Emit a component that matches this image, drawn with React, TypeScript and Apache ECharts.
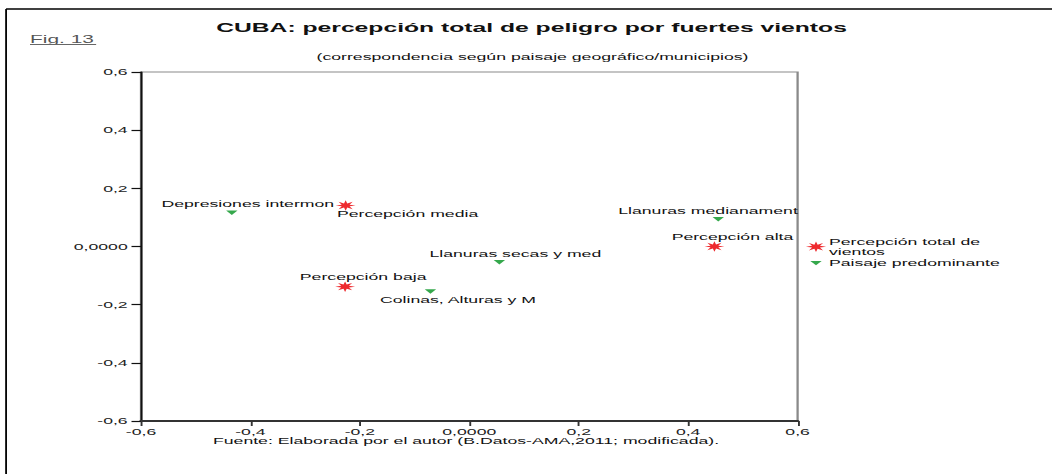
import React, { useEffect, useRef } from 'react';
import * as echarts from 'echarts';

// Horizontal stretch of the reference picture
const S = 1.9;
const W = 1052 / S;
const H = 474;
const FONT = '"Liberation Sans", Arial, sans-serif';

// ---- data ----
const landscapeNames = ['Depresiones intermon', 'Llanuras medianament', 'Llanuras secas y med', 'Colinas, Alturas y M'];
const landscapeX = [-0.434, 0.455, 0.055, -0.071];
const landscapeY = [0.116, 0.094, -0.054, -0.155];

const perceptionNames = ['Percepción media', 'Percepción alta', 'Percepción baja'];
const perceptionX = [-0.226, 0.448, -0.227];
const perceptionY = [0.141, 0.0, -0.138];

const axisMin = -0.6;
const axisMax = 0.6;
const axisStep = 0.2;

const seriesNames = ['Percepción total de\nvientos', 'Paisaje predominante'];

// label placement (style, in chart px)
const landscapeLabelOffset = [[8.4, -9.5], [-5.4, -8.6], [8.4, -8], [14.5, 8.5]];
const perceptionLabelOffset = [[32.6, 8], [9.5, -9.4], [9.5, -10]];

const RED = '#ee2a2e';
const GREEN = '#35a84c';

const tickLabel = (v: number) => (Math.abs(v) < 1e-9 ? '0,0000' : v.toFixed(1).replace('.', ','));

function starPoints(cx: number, cy: number, r: number): number[][] {
  const pts: number[][] = [];
  for (let i = 0; i < 16; i++) {
    const a = -Math.PI / 2 + (i * Math.PI) / 8;
    const rr = i % 2 === 0 ? r : r * 0.42;
    pts.push([cx + rr * Math.cos(a), cy + rr * Math.sin(a)]);
  }
  return pts;
}
const STAR = 'path://M' + starPoints(10, 10, 10).map((p) => p[0].toFixed(2) + ',' + p[1].toFixed(2)).join('L') + 'Z';
const TRI = 'path://M0,0L12,0L6,9Z';

export default function App() {
  const ref = useRef<HTMLDivElement>(null);
  useEffect(() => {
    if (!ref.current) return;
    const chart = echarts.init(ref.current, null, { renderer: 'svg' });
    const lx = 816 / S;
    const tx = 829 / S;
    chart.setOption({
      animation: false,
      textStyle: { fontFamily: FONT },
      title: [
        {
          text: 'CUBA: percepción total de peligro por fuertes vientos',
          left: 531.5 / S, top: 21, textAlign: 'center', padding: 0,
          textStyle: { fontSize: 13, fontWeight: 'bold', color: '#111', fontFamily: FONT },
        },
        {
          text: '(correspondencia según paisaje geográfico/municipios)',
          left: 532.5 / S, top: 52, textAlign: 'center', padding: 0,
          textStyle: { fontSize: 9.3, fontWeight: 'normal', color: '#111', fontFamily: FONT },
        },
        {
          text: 'Fuente: Elaborada por el autor (B.Datos-AMA,2011; modificada).',
          left: 466 / S, top: 436, textAlign: 'center', padding: 0,
          textStyle: { fontSize: 9.3, fontWeight: 'normal', color: '#111', fontFamily: FONT },
        },
      ],
      grid: {
        left: 141 / S, right: W - 797 / S, top: 72, bottom: 53,
        show: true, borderColor: '#8a8a8a', borderWidth: 1.2, backgroundColor: 'transparent',
        outerBoundsMode: 'none',
      },
      xAxis: {
        type: 'value', min: axisMin, max: axisMax, interval: axisStep,
        axisLine: { show: true, onZero: false, lineStyle: { color: '#333', width: 1.8 } },
        axisTick: { show: true, inside: false, length: 5, lineStyle: { color: '#333', width: 1 } },
        splitLine: { show: false },
        axisLabel: { margin: 6, fontSize: 9.3, color: '#222', fontFamily: FONT, formatter: tickLabel, showMinLabel: true, showMaxLabel: true },
      },
      yAxis: {
        type: 'value', min: axisMin, max: axisMax, interval: axisStep,
        axisLine: { show: true, onZero: false, lineStyle: { color: '#111', width: 1.05 } },
        axisTick: { show: true, inside: false, length: 5, lineStyle: { color: '#111', width: 1.2 } },
        splitLine: { show: false },
        axisLabel: { margin: 7, fontSize: 9.3, color: '#222', fontFamily: FONT, formatter: tickLabel, showMinLabel: true, showMaxLabel: true },
      },
      series: [
        {
          type: 'scatter', name: seriesNames[0], silent: true,
          symbol: STAR, symbolSize: 10.5, symbolKeepAspect: true,
          itemStyle: { color: RED, opacity: 1 },
          label: { show: true, position: 'inside', formatter: (p: any) => p.name, color: '#111', fontSize: 9.3, fontFamily: FONT },
          data: perceptionX.map((x, i) => ({
            value: [x, perceptionY[i]], name: perceptionNames[i],
            label: { offset: perceptionLabelOffset[i] },
          })),
          z: 3,
        },
        {
          type: 'scatter', name: seriesNames[1], silent: true,
          symbol: TRI, symbolSize: [6, 4.5],
          itemStyle: { color: GREEN, opacity: 1 },
          label: { show: true, position: 'inside', formatter: (p: any) => p.name, color: '#111', fontSize: 9.3, fontFamily: FONT },
          data: landscapeX.map((x, i) => ({
            value: [x, landscapeY[i]], name: landscapeNames[i],
            label: { offset: landscapeLabelOffset[i] },
          })),
          z: 2,
        },
      ],
      graphic: [
        // outer frame
        { type: 'line', shape: { x1: 3.2, y1: 9, x2: W + 2, y2: 9 }, style: { stroke: '#000', lineWidth: 1.6 } },
        { type: 'line', shape: { x1: 3.2, y1: 9, x2: 3.2, y2: H + 2 }, style: { stroke: '#000', lineWidth: 0.95 } },
        // Fig. 13
        {
          type: 'text', x: 15.8, y: 39, style: {
            text: 'Fig. 13', font: `11px ${FONT}`, fill: '#555', textAlign: 'left', textVerticalAlign: 'middle',
          },
        },
        { type: 'line', shape: { x1: 15.8, y1: 44.5, x2: 50.6, y2: 44.5 }, style: { stroke: '#666', lineWidth: 1 } },
        // legend
        { type: 'polygon', shape: { points: starPoints(lx, 246.7, 5.3) }, style: { fill: RED } },
        {
          type: 'text', x: tx, y: 246.7, style: {
            text: seriesNames[0], font: `9.3px ${FONT}`, fill: '#111', lineHeight: 9,
            textAlign: 'left', textVerticalAlign: 'middle',
          },
        },
        { type: 'polygon', shape: { points: [[lx - 3, 261], [lx + 3, 261], [lx, 265.3]] }, style: { fill: GREEN } },
        {
          type: 'text', x: tx, y: 262.5, style: {
            text: seriesNames[1], font: `9.3px ${FONT}`, fill: '#111',
            textAlign: 'left', textVerticalAlign: 'middle',
          },
        },
      ],
    });
    return () => chart.dispose();
  }, []);
  return (
    <div
      ref={ref}
      style={{
        position: 'fixed', left: 0, top: 0, width: W + 'px', height: H + 'px',
        transform: `scaleX(${S})`, transformOrigin: '0 0', background: '#fff',
      }}
    />
  );
}
